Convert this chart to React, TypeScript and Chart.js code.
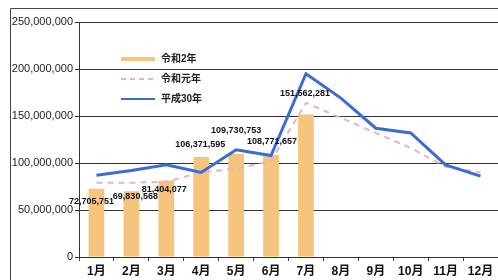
import React, { useEffect, useRef } from "react";
import { Chart, registerables } from "chart.js";

Chart.register(...registerables);

const months = ["1月", "2月", "3月", "4月", "5月", "6月", "7月", "8月", "9月", "10月", "11月", "12月"];
const reiwa2 = [72705751, 69830568, 81404077, 106371595, 109730753, 108771657, 151562281, null, null, null, null, null];
const reiwa1 = [79000000, 79000000, 80000000, 90000000, 94000000, 102000000, 164000000, 148000000, 132000000, 116000000, 96000000, 90000000];
const heisei30 = [87000000, 92000000, 98000000, 90000000, 114000000, 108000000, 195000000, 169000000, 137000000, 132000000, 98000000, 86000000];
const seriesNames = ["令和2年", "令和元年", "平成30年"];

// label placement tweaks (pixels) relative to bar top
const labelDx = [-5, 4, -2, -1, 0, 1, -1];
const labelDy = [13, 5, 9, -12, -23, -13, -21];

const BAR = "#F6C47C";
const PINK = "#E2B4C6";
const BLUE = "#3A6CD2";
const FONT = "'Liberation Sans', 'Noto Sans CJK JP', sans-serif";

const decorPlugin = {
  id: "decor",
  beforeDraw(chart: any) {
    const ctx = chart.ctx;
    ctx.save();
    ctx.strokeStyle = "#444";
    ctx.lineWidth = 1;
    ctx.beginPath();
    ctx.moveTo(10.5, 280);
    ctx.lineTo(10.5, 8.5);
    ctx.lineTo(498, 8.5);
    ctx.stroke();
    ctx.restore();
  },
  afterDraw(chart: any) {
    const ctx = chart.ctx;
    const area = chart.chartArea;
    ctx.save();
    // data labels
    const meta = chart.getDatasetMeta(0);
    ctx.font = `bold 9px ${FONT}`;
    ctx.fillStyle = "#111";
    ctx.textAlign = "center";
    ctx.textBaseline = "middle";
    meta.data.forEach((el: any, i: number) => {
      const v = reiwa2[i];
      if (v == null) return;
      ctx.fillText(v.toLocaleString("en-US"), el.x + (labelDx[i] || 0), el.y + (labelDy[i] || 0));
    });
    // legend
    const lx = area.left + 42;
    const ly = [59, 79, 99];
    ctx.font = `bold 10px ${FONT}`;
    ctx.textAlign = "left";
    ctx.fillStyle = "#222";
    ctx.strokeStyle = BAR;
    ctx.lineWidth = 4;
    ctx.setLineDash([]);
    ctx.beginPath();
    ctx.moveTo(lx, ly[0]);
    ctx.lineTo(lx + 34, ly[0]);
    ctx.stroke();
    ctx.strokeStyle = PINK;
    ctx.lineWidth = 2;
    ctx.setLineDash([5, 4]);
    ctx.beginPath();
    ctx.moveTo(lx, ly[1]);
    ctx.lineTo(lx + 34, ly[1]);
    ctx.stroke();
    ctx.strokeStyle = BLUE;
    ctx.lineWidth = 2;
    ctx.setLineDash([]);
    ctx.beginPath();
    ctx.moveTo(lx, ly[2]);
    ctx.lineTo(lx + 34, ly[2]);
    ctx.stroke();
    seriesNames.forEach((n, i) => ctx.fillText(n, lx + 40, ly[i]));
    ctx.restore();
  },
};

export default function App() {
  const ref = useRef<HTMLCanvasElement>(null);
  useEffect(() => {
    if (!ref.current) return;
    const chart = new Chart(ref.current, {
      type: "bar",
      data: {
        labels: months,
        datasets: [
          {
            type: "bar",
            label: seriesNames[0],
            data: reiwa2,
            backgroundColor: BAR,
            barPercentage: 0.45,
            categoryPercentage: 1,
            order: 3,
          },
          {
            type: "line",
            label: seriesNames[1],
            data: reiwa1,
            borderColor: PINK,
            borderWidth: 2,
            borderDash: [6, 5],
            pointRadius: 0,
            tension: 0,
            order: 2,
          },
          {
            type: "line",
            label: seriesNames[2],
            data: heisei30,
            borderColor: BLUE,
            borderWidth: 3,
            pointRadius: 0,
            tension: 0,
            order: 1,
          },
        ] as any,
      },
      options: {
        animation: false,
        responsive: false,
        maintainAspectRatio: false,
        layout: { padding: { top: 22, right: 0, bottom: 0, left: 0 } },
        plugins: { legend: { display: false }, tooltip: { enabled: false } },
        scales: {
          x: {
            grid: { drawOnChartArea: false, color: "#444", tickLength: 4 },
            border: { color: "#333", width: 1 },
            ticks: { color: "#111", font: { family: FONT, size: 12, weight: "bold" }, padding: 3, maxRotation: 0 },
            afterFit: (s: any) => { s.height = 23; },
          },
          y: {
            min: 0,
            max: 250000000,
            grid: { color: "#333", lineWidth: 1, tickLength: 4 },
            border: { color: "#333", width: 1 },
            ticks: {
              stepSize: 50000000,
              color: "#222",
              font: { family: FONT, size: 11 },
              padding: 2,
              callback: (v: any) => Number(v).toLocaleString("en-US"),
            },
            afterFit: (s: any) => { s.width = 79; },
          },
        },
      } as any,
      plugins: [decorPlugin],
    });
    return () => chart.destroy();
  }, []);
  return (
    <div style={{ position: "fixed", left: 0, top: 0, width: 498, height: 280, background: "#fff" }}>
      <canvas ref={ref} width={498} height={280} />
    </div>
  );
}
